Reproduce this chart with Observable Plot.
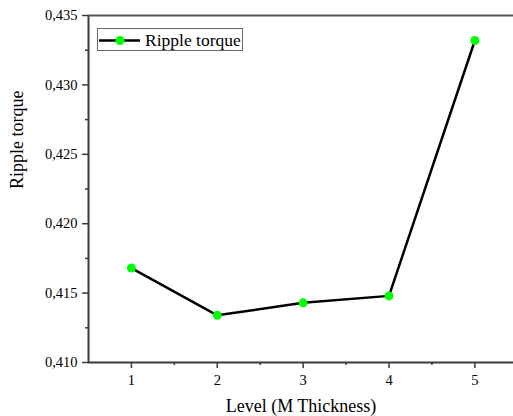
<!DOCTYPE html>
<html>
<head>
<meta charset="utf-8">
<script src="https://cdn.jsdelivr.net/npm/d3@7"></script>
<script src="https://cdn.jsdelivr.net/npm/@observablehq/plot@0.6"></script>
<style>
  html, body { margin: 0; padding: 0; background: #fff; }
  #wrap { position: relative; width: 513px; height: 416px; overflow: hidden; }
  #chart svg, #chart svg text, #chart svg g { font-family: "Liberation Serif", "Times New Roman", serif !important; }
  #legend {
    position: absolute; left: 97px; top: 28px; width: 146px; height: 23px;
    border: 1px solid #6a6a6a; background: #fff; box-sizing: border-box;
    font-family: "Liberation Serif", "Times New Roman", serif; font-size: 17.5px; color: #000;
  }
  #legend svg { position: absolute; left: 0; top: 0; }
  #legend span { position: absolute; left: 47px; top: 0px; line-height: 22px; white-space: nowrap; }
</style>
</head>
<body>
<div id="wrap">
  <div id="chart"></div>
  <div id="legend">
    <svg width="46" height="22"><line x1="1" x2="42" y1="11.5" y2="11.5" stroke="#000" stroke-width="2.5"/><circle cx="22" cy="11.5" r="4.5" fill="#00ff00"/></svg>
    <span>Ripple torque</span>
  </div>
</div>
<script>
const levels = [1, 2, 3, 4, 5];
const ripple = [0.4168, 0.4134, 0.4143, 0.4148, 0.4332];
const yTicks = [0.410, 0.415, 0.420, 0.425, 0.430, 0.435];
const yMinor = [0.4125, 0.4175, 0.4225, 0.4275, 0.4325];
const xMinor = [1.5, 2.5, 3.5, 4.5];
const xTitle = "Level (M Thickness)";
const yTitle = "Ripple torque";

const data = levels.map((l, i) => ({level: l, value: ripple[i]}));
const axisColor = "#3a3a3a";
const serif = "'Liberation Serif', 'Times New Roman', serif";
const comma = d => d3.format(".3f")(d).replace(".", ",");

const chart = Plot.plot({
  width: 513,
  height: 416,
  marginLeft: 88,
  marginRight: 0,
  marginTop: 15,
  marginBottom: 54,
  style: {fontFamily: serif, fontSize: "14.5px", color: "#000", background: "#fff"},
  x: {domain: [0.5, 5.45]},
  y: {domain: [0.410, 0.435]},
  marks: [
    Plot.axisY(yTicks, {tickSize: 6, tickPadding: 5, tickFormat: comma, stroke: axisColor, strokeWidth: 1.5, fill: "#000", label: null, fontFamily: serif, fontSize: 14.5}),
    Plot.axisY(yMinor, {tickSize: 3, tickFormat: () => "", stroke: axisColor, strokeWidth: 1.5, label: null}),
    Plot.axisX(levels, {tickSize: 6, tickPadding: 6, tickFormat: d => String(d), stroke: axisColor, strokeWidth: 1.5, fill: "#000", label: null, fontFamily: serif, fontSize: 14.5}),
    Plot.axisX(xMinor, {tickSize: 3, tickFormat: () => "", stroke: axisColor, strokeWidth: 1.5, label: null}),
    Plot.ruleX([0.5], {stroke: axisColor, strokeWidth: 2}),
    Plot.ruleY([0.410], {stroke: axisColor, strokeWidth: 2}),
    Plot.ruleY([0.435], {stroke: "#555", strokeWidth: 2}),
    Plot.line(data, {x: "level", y: "value", stroke: "#000", strokeWidth: 2.5}),
    Plot.dot(data, {x: "level", y: "value", r: 4.5, fill: "#00ff00", stroke: null}),
    Plot.text([xTitle], {frameAnchor: "bottom", dy: 44, fontSize: 18, lineAnchor: "middle", fill: "#000", fontFamily: serif}),
    Plot.text([yTitle], {frameAnchor: "left", dx: -71, rotate: -90, fontSize: 18, lineAnchor: "middle", fill: "#000", fontFamily: serif})
  ]
});
document.getElementById("chart").appendChild(chart);
</script>
</body>
</html>
